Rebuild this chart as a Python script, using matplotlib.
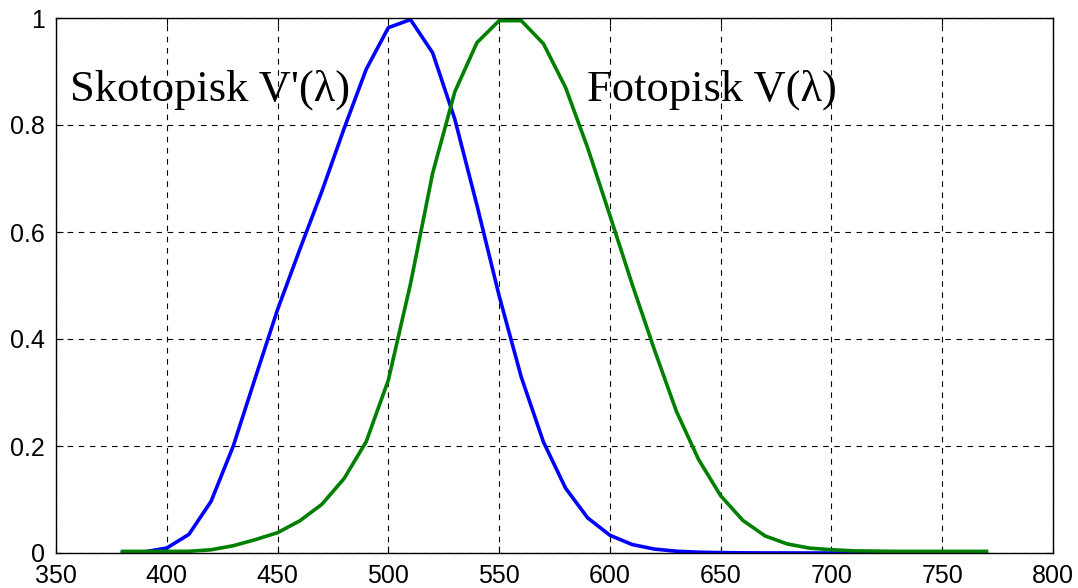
import numpy as np
import matplotlib.pyplot as plt

# wavelength, nm
wl = np.arange(380, 780, 10)

# skotopisk V'(lambda)
v_scot = [0.0006, 0.0022, 0.0093, 0.0348, 0.0966, 0.1998, 0.3281, 0.455,
          0.567, 0.676, 0.793, 0.904, 0.982, 0.997, 0.935, 0.811,
          0.650, 0.481, 0.3288, 0.2076, 0.1212, 0.0655, 0.0332, 0.0159,
          0.0074, 0.0033, 0.0015, 0.0007, 0.0003, 0.0001, 0.0001, 0.0,
          0.0, 0.0, 0.0, 0.0, 0.0, -0.001, -0.002, -0.002]

# fotopisk V(lambda)
v_phot = [0.003, 0.003, 0.003, 0.0032, 0.006, 0.0136, 0.025, 0.038,
          0.060, 0.091, 0.139, 0.208, 0.323, 0.503, 0.710, 0.862,
          0.954, 0.995, 0.995, 0.952, 0.870, 0.757, 0.631, 0.503,
          0.381, 0.265, 0.175, 0.107, 0.061, 0.032, 0.017, 0.0092,
          0.0061, 0.004, 0.0035, 0.003, 0.003, 0.003, 0.003, 0.003]

fig = plt.figure(figsize=(10.78, 5.88), dpi=100)
ax = fig.add_axes([56/1078, 1-553/588, (1053-56)/1078, (553-18)/588])

ax.plot(wl, v_scot, color='#0000ff', lw=2.6)
ax.plot(wl, v_phot, color='#007f00', lw=2.6)

ax.set_xlim(350, 800)
ax.set_ylim(0, 1)
ax.set_xticks(np.arange(350, 801, 50))
ax.set_yticks([0, 0.2, 0.4, 0.6, 0.8, 1])
ax.set_yticklabels(['0', '0.2', '0.4', '0.6', '0.8', '1'])
ax.grid(True, color='black', ls=(0, (5, 5)), lw=0.8)
ax.tick_params(direction='in', length=5, top=True, right=True,
               labelsize=18)
ax.tick_params(axis='x', pad=8)
ax.tick_params(axis='y', pad=8)
for lab in ax.get_xticklabels() + ax.get_yticklabels():
    lab.set_family('Liberation Sans')
for s in ax.spines.values():
    s.set_linewidth(1.0)

ax.text(356.5, 0.846, "Skotopisk V'(\u03bb)", family='Liberation Serif',
        fontsize=32, va='baseline')
ax.text(589.5, 0.846, "Fotopisk V(\u03bb)", family='Liberation Serif',
        fontsize=32, va='baseline')

fig.savefig('out.png', dpi=100)
